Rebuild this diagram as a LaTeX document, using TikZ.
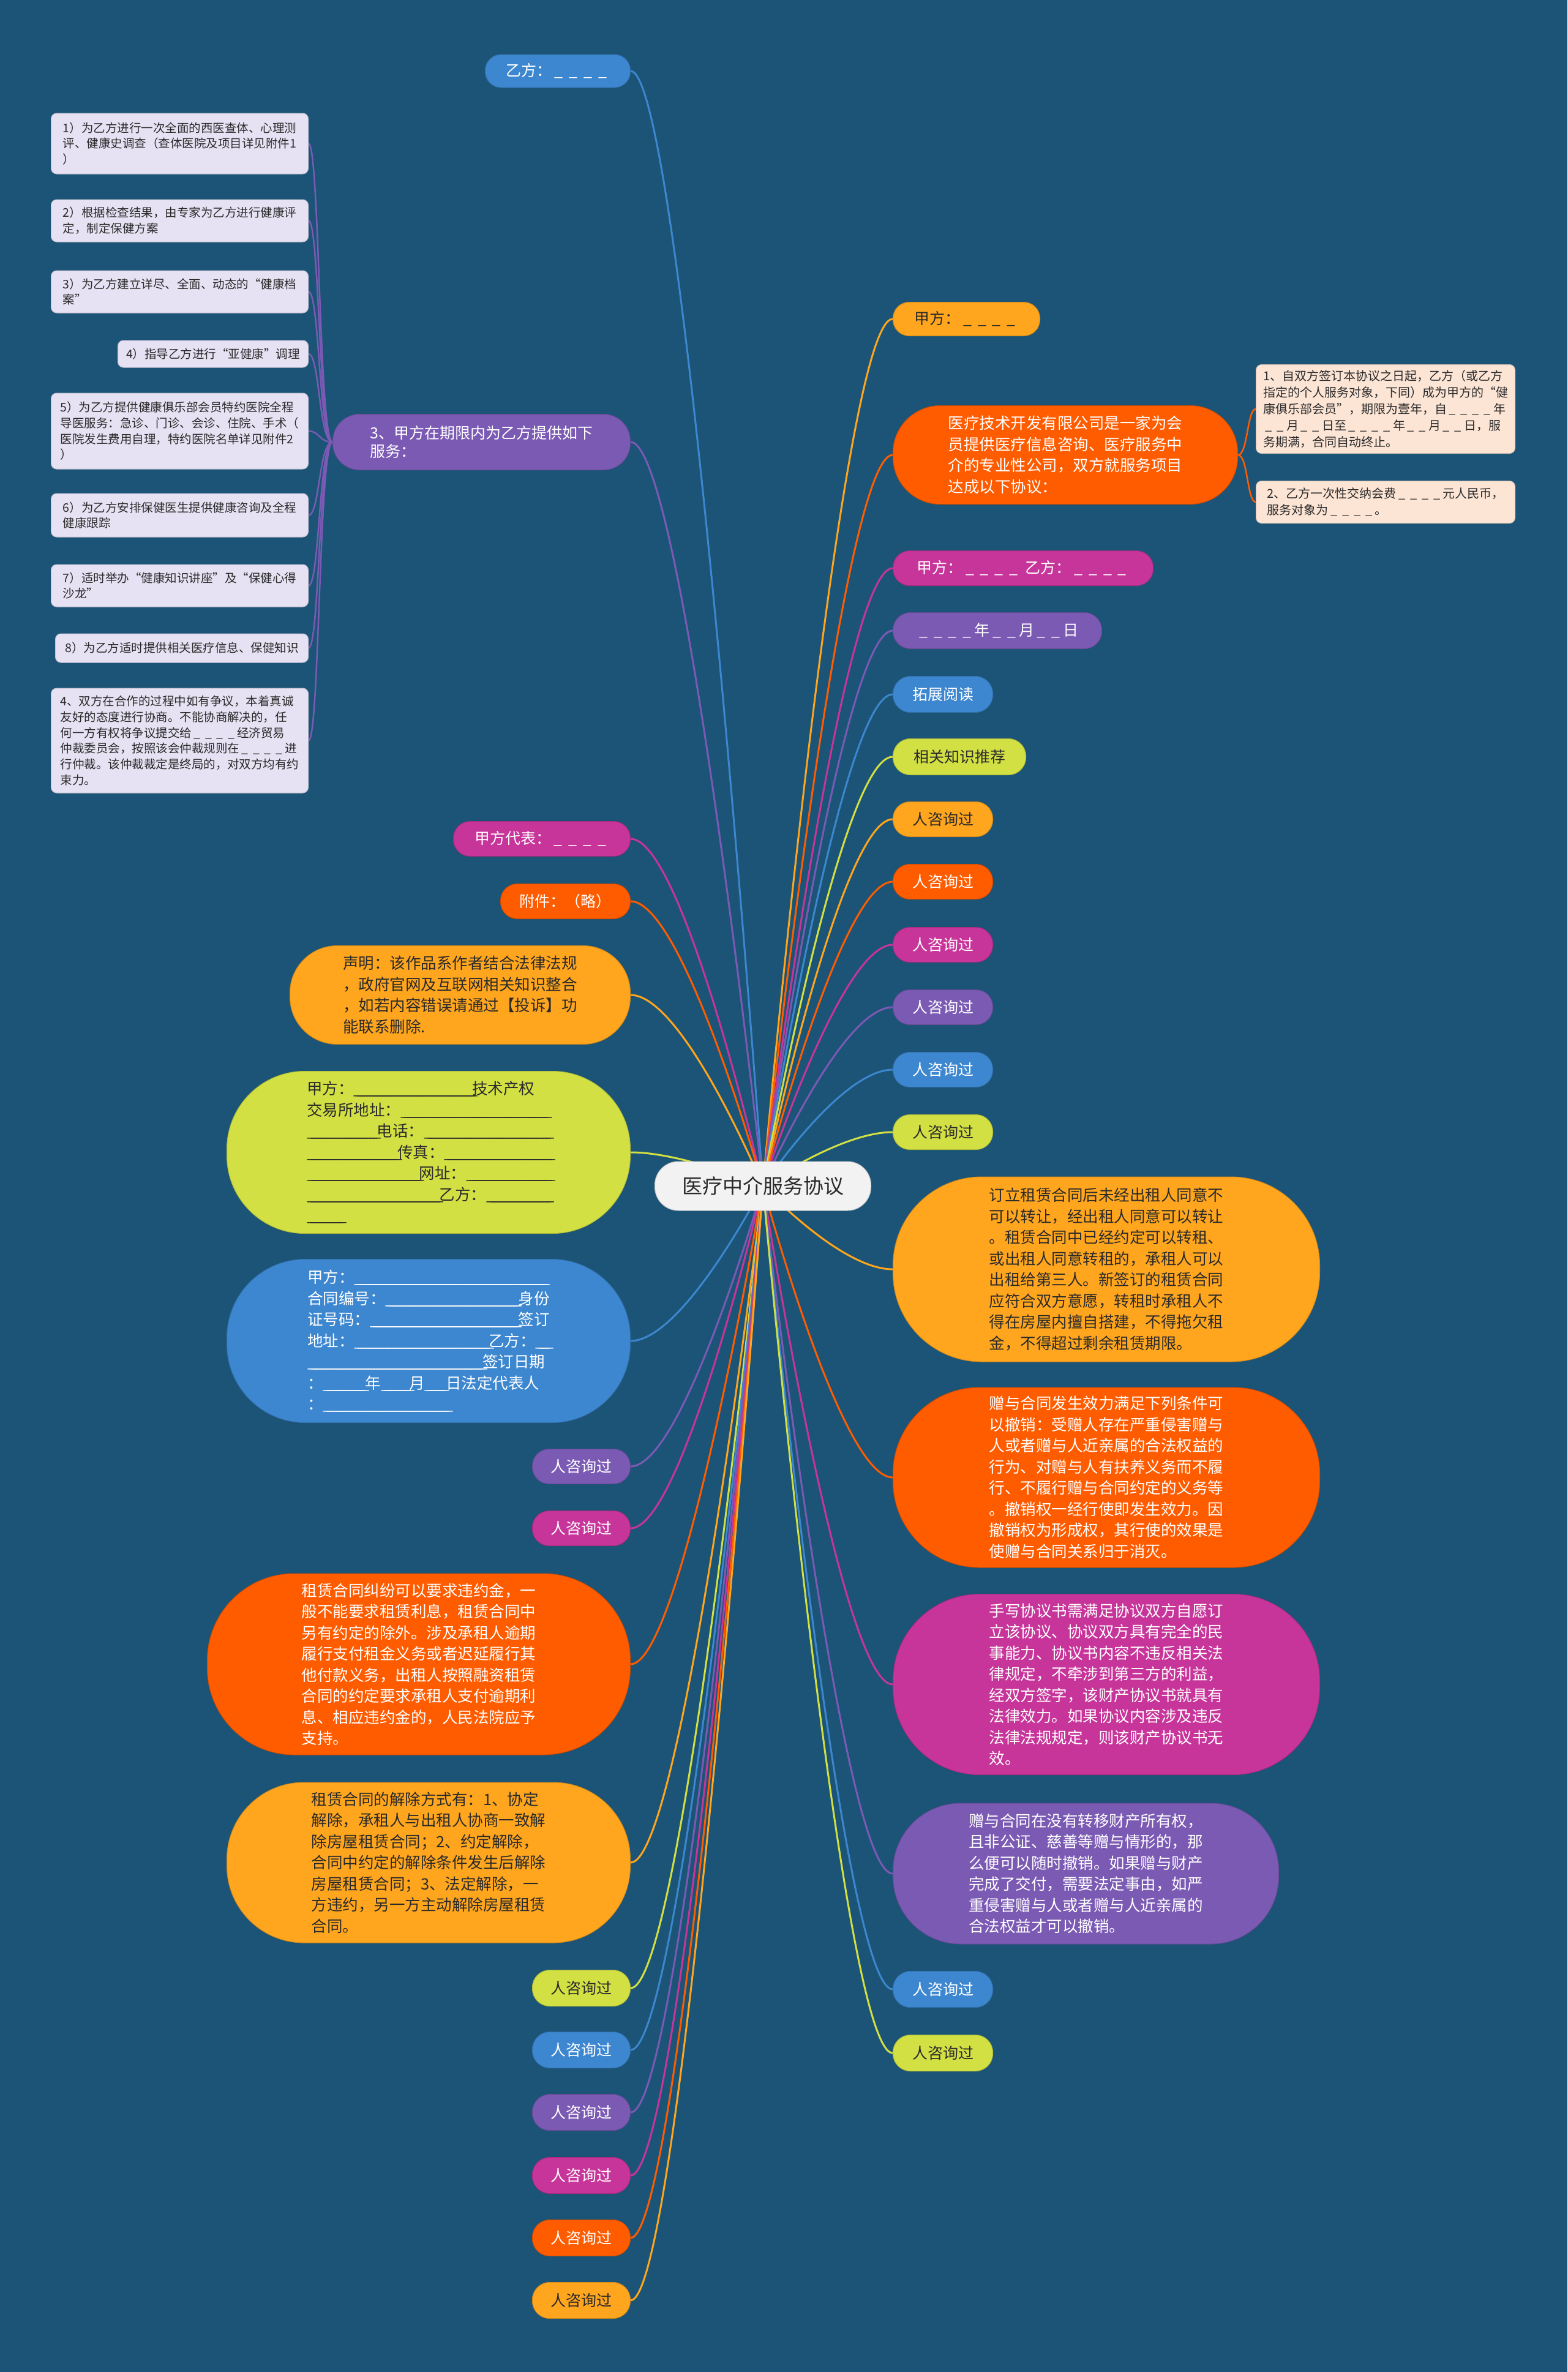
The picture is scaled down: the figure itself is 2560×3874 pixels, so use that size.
\documentclass[tikz,border=0pt]{standalone}
\usepackage{fontspec}
\usepackage{graphicx}
\newfontfamily\cjk{Noto Sans CJK SC}
\usetikzlibrary{calc}
\pgfdeclarelayer{back}
\pgfdeclarelayer{edges}
\pgfsetlayers{back,edges,main}
\definecolor{bgc}{HTML}{1B5476}
\definecolor{cblue}{HTML}{3D87D0}
\definecolor{cyel}{HTML}{FFA61E}
\definecolor{corg}{HTML}{FF5C00}
\definecolor{cmag}{HTML}{C8359A}
\definecolor{cpur}{HTML}{7B5AB4}
\definecolor{cgrn}{HTML}{D3E044}
\definecolor{cleaf}{HTML}{E6E2F3}
\definecolor{cpeach}{HTML}{FDE5D5}
\definecolor{ccen}{HTML}{F2F2F2}
\definecolor{txt}{HTML}{2A2A2A}
\newcommand\bl{\makebox[0.95em]{\_}}
\newcommand\fu[1]{\hbox to #1em{\leaders\hbox to 0.2em{\_\hss}\hfill}}
\newcommand\conR[2]{\draw[conn,#2] (c.center) .. controls (c.center) and ($(#1.west)+(-85,0)$) .. (#1.west);}
\newcommand\conL[2]{\draw[conn,#2] (c.center) .. controls (c.center) and ($(#1.east)+(86,0)$) .. (#1.east);}
\newcommand\conLeaf[1]{\draw[conn,cpur,line width=2.5pt] (l2.west) .. controls ($(l2.west)+(-22,0)$) and ($(#1.east)+(18,0)$) .. (#1.east);}
\newcommand\conPeach[1]{\draw[conn,corg,line width=2.5pt] (r2.east) .. controls ($(r2.east)+(16,0)$) and ($(#1.west)+(-14,0)$) .. (#1.west);}
\tikzset{
  pill/.style n args={4}{fill=#1, draw=#1!82!black, line width=1pt, text=#2,
    minimum width=#3, minimum height=#4, rounded corners=0.48*#4, inner sep=0pt, align=left},
  sm/.style={font=\cjk\fontsize{25pt}{30pt}\selectfont},
  lg/.style={font=\cjk\fontsize{25.5pt}{34.5pt}\selectfont},
  lfbox/.style 2 args={fill=cleaf, draw=cleaf!85!black, line width=1pt, text=txt,
    minimum width=#1, minimum height=#2, rounded corners=9, inner sep=0pt, align=left,
    anchor=east, font=\cjk\fontsize{19.5pt}{25.7pt}\selectfont},
  pbox/.style 2 args={fill=cpeach, draw=cpeach!85!black, line width=1pt, text=txt,
    minimum width=#1, minimum height=#2, rounded corners=9, inner sep=0pt, align=left,
    anchor=west, font=\cjk\fontsize{20pt}{27pt}\selectfont},
  conn/.style={line width=3pt},
  R/.style={anchor=west},
  L/.style={anchor=east}
}
\begin{document}
\begin{tikzpicture}[x=1pt,y=-1pt,font=\cjk]
\begin{pgfonlayer}{back}
\fill[bgc] (0,0) rectangle (2560,3874);
\end{pgfonlayer}
\useasboundingbox (0,0) rectangle (2560,3874);

% centre
\node[pill={ccen}{txt}{353}{80}, font=\cjk\fontsize{33pt}{38pt}\selectfont] (c) at (1246,1937) {医疗中介服务协议};

% right side
\node[pill={cyel}{txt}{240}{55}, sm, R] (r1) at (1458,521) {甲方：\bl\bl\bl\bl};
\node[pill={corg}{white}{563}{161}, lg, R] (r2) at (1458,743) {医疗技术开发有限公司是一家为会\\员提供医疗信息咨询、医疗服务中\\介的专业性公司，双方就服务项目\\达成以下协议：};
\node[pbox={423}{145}] (p1) at (2051,668) {1、自双方签订本协议之日起，乙方（或乙方\\指定的个人服务对象，下同）成为甲方的“健\\康俱乐部会员”，期限为壹年，自\bl\bl\bl\bl 年\\\bl\bl 月\bl\bl 日至\bl\bl\bl\bl 年\bl\bl 月\bl\bl 日，服\\务期满，合同自动终止。};
\node[pbox={423}{69}] (p2) at (2051,820) {2、乙方一次性交纳会费\bl\bl\bl\bl 元人民币，\\服务对象为\bl\bl\bl\bl 。};
\node[pill={cmag}{white}{425}{57}, sm, R] (r3) at (1458,928) {甲方：\bl\bl\bl\bl\hspace{0.3em}乙方：\bl\bl\bl\bl};
\node[pill={cpur}{white}{341}{59}, sm, R] (r4) at (1458,1030) {\bl\bl\bl\bl 年\bl\bl 月\bl\bl 日};
\node[pill={cblue}{white}{163}{59}, sm, R] (r5) at (1458,1134) {拓展阅读};
\node[pill={cgrn}{txt}{217}{59}, sm, R] (r6) at (1458,1236) {相关知识推荐};
\node[pill={cyel}{txt}{163}{57}, sm, R] (r7) at (1458,1338) {人咨询过};
\node[pill={corg}{white}{163}{57}, sm, R] (r8) at (1458,1440) {人咨询过};
\node[pill={cmag}{white}{163}{57}, sm, R] (r9) at (1458,1543) {人咨询过};
\node[pill={cpur}{white}{163}{57}, sm, R] (r10) at (1458,1645) {人咨询过};
\node[pill={cblue}{white}{163}{57}, sm, R] (r11) at (1458,1747) {人咨询过};
\node[pill={cgrn}{txt}{163}{57}, sm, R] (r12) at (1458,1849) {人咨询过};
\node[pill={cyel}{txt}{697}{302}, lg, R] (r13) at (1458,2073) {订立租赁合同后未经出租人同意不\\可以转让，经出租人同意可以转让\\。租赁合同中已经约定可以转租、\\或出租人同意转租的，承租人可以\\出租给第三人。新签订的租赁合同\\应符合双方意愿，转租时承租人不\\得在房屋内擅自搭建，不得拖欠租\\金，不得超过剩余租赁期限。};
\node[pill={corg}{white}{697}{294}, lg, R] (r14) at (1458,2413) {赠与合同发生效力满足下列条件可\\以撤销：受赠人存在严重侵害赠与\\人或者赠与人近亲属的合法权益的\\行为、对赠与人有扶养义务而不履\\行、不履行赠与合同约定的义务等\\。撤销权一经行使即发生效力。因\\撤销权为形成权，其行使的效果是\\使赠与合同关系归于消灭。};
\node[pill={cmag}{white}{697}{295}, lg, R] (r15) at (1458,2751) {手写协议书需满足协议双方自愿订\\立该协议、协议双方具有完全的民\\事能力、协议书内容不违反相关法\\律规定，不牵涉到第三方的利益，\\经双方签字，该财产协议书就具有\\法律效力。如果协议内容涉及违反\\法律法规规定，则该财产协议书无\\效。};
\node[pill={cpur}{white}{630}{230}, lg, R] (r16) at (1458,3060) {赠与合同在没有转移财产所有权，\\且非公证、慈善等赠与情形的，那\\么便可以随时撤销。如果赠与财产\\完成了交付，需要法定事由，如严\\重侵害赠与人或者赠与人近亲属的\\合法权益才可以撤销。};
\node[pill={cblue}{white}{163}{59}, sm, R] (r17) at (1458,3249) {人咨询过};
\node[pill={cgrn}{txt}{163}{59}, sm, R] (r18) at (1458,3353) {人咨询过};

% left side
\node[pill={cblue}{white}{237}{54}, sm, L] (l1) at (1030,116) {乙方：\bl\bl\bl\bl};
\node[pill={cpur}{white}{486}{91}, sm, L] (l2) at (1030,722) {3、甲方在期限内为乙方提供如下\\服务：};
\node[pill={cmag}{white}{289}{57}, sm, L] (l3) at (1030,1370) {甲方代表：\bl\bl\bl\bl};
\node[pill={corg}{white}{212}{57}, sm, L] (l4) at (1030,1472) {附件：（略）};
\node[pill={cyel}{txt}{556}{161}, lg, L] (l5) at (1030,1625) {声明：该作品系作者结合法律法规\\，政府官网及互联网相关知识整合\\，如若内容错误请通过【投诉】功\\能联系删除.};
\node[pill={cgrn}{txt}{659}{265}, lg, L] (l6) at (1030,1882) {甲方：\fu{7.6}技术产权\\交易所地址：\fu{9.4}\\\fu{4.5}电话：\fu{8.1}\\\fu{5.8}传真：\fu{6.8}\\\fu{7.2}网址：\fu{5.4}\\\fu{8.5}乙方：\fu{4.0}\\\fu{2.2}};
\node[pill={cblue}{white}{659}{267}, lg, L] (l7) at (1030,2190) {甲方：\fu{12.2}\\合同编号：\fu{8.5}身份\\证号码：\fu{9.5}签订\\地址：\fu{8.6}乙方：\fu{0.9}\\\fu{11.2}签订日期\\：\fu{2.7}年\fu{1.8}月\fu{1.35}日法定代表人\\：\fu{8.1}};
\node[pill={cpur}{white}{160}{57}, sm, L] (l8) at (1030,2395) {人咨询过};
\node[pill={cmag}{white}{160}{57}, sm, L] (l9) at (1030,2496) {人咨询过};
\node[pill={corg}{white}{691}{296}, lg, L] (l10) at (1030,2718) {租赁合同纠纷可以要求违约金，一\\般不能要求租赁利息，租赁合同中\\另有约定的除外。涉及承租人逾期\\履行支付租金义务或者迟延履行其\\他付款义务，出租人按照融资租赁\\合同的约定要求承租人支付逾期利\\息、相应违约金的，人民法院应予\\支持。};
\node[pill={cyel}{txt}{659}{262}, lg, L] (l11) at (1030,3042) {租赁合同的解除方式有：1、协定\\解除，承租人与出租人协商一致解\\除房屋租赁合同；2、约定解除，\\合同中约定的解除条件发生后解除\\房屋租赁合同；3、法定解除，一\\方违约，另一方主动解除房屋租赁\\合同。};
\node[pill={cgrn}{txt}{160}{59}, sm, L] (l12) at (1030,3247) {人咨询过};
\node[pill={cblue}{white}{160}{59}, sm, L] (l13) at (1030,3348) {人咨询过};
\node[pill={cpur}{white}{160}{59}, sm, L] (l14) at (1030,3450) {人咨询过};
\node[pill={cmag}{white}{160}{59}, sm, L] (l15) at (1030,3553) {人咨询过};
\node[pill={corg}{white}{160}{59}, sm, L] (l16) at (1030,3655) {人咨询过};
\node[pill={cyel}{txt}{160}{59}, sm, L] (l17) at (1030,3757) {人咨询过};

% leaves of l2
\node[lfbox={420}{99}] (f1) at (504,234.5) {1）为乙方进行一次全面的西医查体、心理测\\评、健康史调查（查体医院及项目详见附件1\\）};
\node[lfbox={420}{69}] (f2) at (504,360.5) {2）根据检查结果，由专家为乙方进行健康评\\定，制定保健方案};
\node[lfbox={420}{69}] (f3) at (504,476.5) {3）为乙方建立详尽、全面、动态的“健康档\\案”};
\node[lfbox={311}{44}] (f4) at (504,578) {4）指导乙方进行“亚健康”调理};
\node[lfbox={420}{124}] (f5) at (504,704) {5）为乙方提供健康俱乐部会员特约医院全程\\导医服务：急诊、门诊、会诊、住院、手术（\\医院发生费用自理，特约医院名单详见附件2\\）};
\node[lfbox={420}{71}] (f6) at (504,841.5) {6）为乙方安排保健医生提供健康咨询及全程\\健康跟踪};
\node[lfbox={420}{69}] (f7) at (504,956.5) {7）适时举办“健康知识讲座”及“保健心得\\沙龙”};
\node[lfbox={413}{47}] (f8) at (504,1058.5) {8）为乙方适时提供相关医疗信息、保健知识};
\node[lfbox={420}{171}] (f9) at (504,1209.5) {4、双方在合作的过程中如有争议，本着真诚\\友好的态度进行协商。不能协商解决的，任\\何一方有权将争议提交给\bl\bl\bl\bl 经济贸易\\仲裁委员会，按照该会仲裁规则在\bl\bl\bl\bl 进\\行仲裁。该仲裁裁定是终局的，对双方均有约\\束力。};

\begin{pgfonlayer}{edges}
\conR{r1}{cyel}\conR{r2}{corg}\conR{r3}{cmag}\conR{r4}{cpur}\conR{r5}{cblue}
\conR{r6}{cgrn}\conR{r7}{cyel}\conR{r8}{corg}\conR{r9}{cmag}\conR{r10}{cpur}
\conR{r11}{cblue}\conR{r12}{cgrn}\conR{r13}{cyel}\conR{r14}{corg}\conR{r15}{cmag}
\conR{r16}{cpur}\conR{r17}{cblue}\conR{r18}{cgrn}
\conL{l1}{cblue}\conL{l2}{cpur}\conL{l3}{cmag}\conL{l4}{corg}\conL{l5}{cyel}
\conL{l6}{cgrn}\conL{l7}{cblue}\conL{l8}{cpur}\conL{l9}{cmag}\conL{l10}{corg}
\conL{l11}{cyel}\conL{l12}{cgrn}\conL{l13}{cblue}\conL{l14}{cpur}\conL{l15}{cmag}
\conL{l16}{corg}\conL{l17}{cyel}
\conLeaf{f1}\conLeaf{f2}\conLeaf{f3}\conLeaf{f4}\conLeaf{f5}
\conLeaf{f6}\conLeaf{f7}\conLeaf{f8}\conLeaf{f9}
\conPeach{p1}\conPeach{p2}
\end{pgfonlayer}
\end{tikzpicture}
\end{document}
